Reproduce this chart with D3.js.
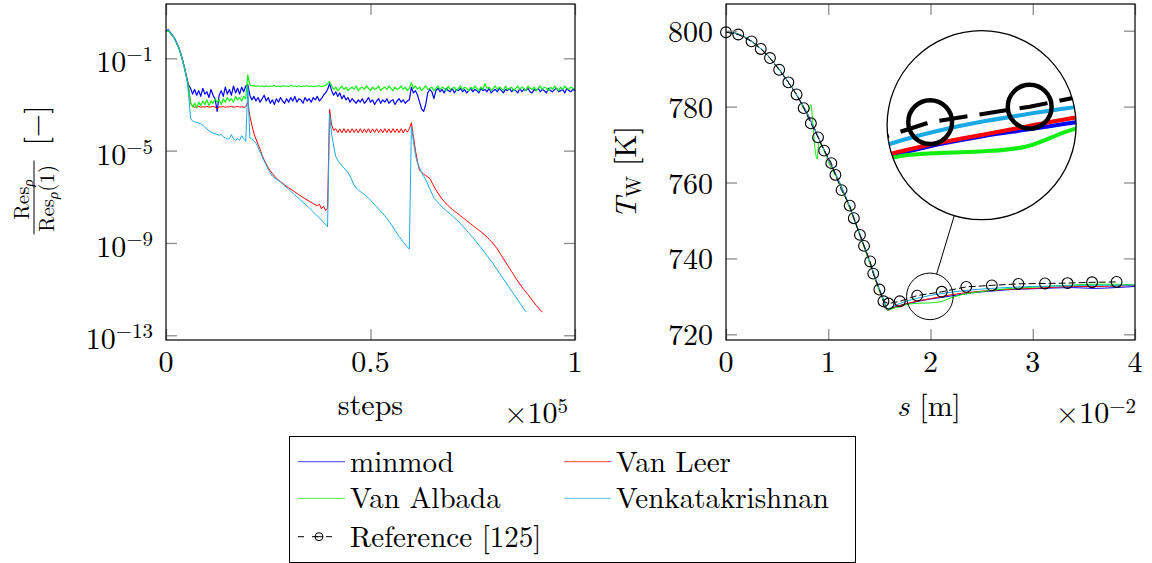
<!DOCTYPE html>
<html>
<head>
<meta charset="utf-8">
<script src="https://cdn.jsdelivr.net/npm/d3@7"></script>
<style>
body { margin: 0; background: #fff; }
svg text { font-family: "Latin Modern Roman", "CMU Serif", "Liberation Serif", "Times New Roman", serif; fill: #000; }
</style>
</head>
<body>
<svg id="chart" width="1152" height="563"></svg>
<script>
// residual history, log10(Res/Res(1)), sampled every 0.005 x 1e5 steps
var stepSpacing = 0.005;
var minmodRes = [0.15, 0.24, 0.12, 0.02, -0.1, -0.28, -0.48, -0.73, -1.03, -1.38, -1.78, -2.15,
    -2.3,
    -2.55, -2.35, -2.6, -2.4, -2.65, -2.3, -2.55, -2.45, -2.7, -2.35, -2.6, -2.75, -3.3, -2.6, -2.4, -2.65, -2.25, -2.55, -2.35, -2.6, -2.2, -2.5, -2.3, -2.55, -2.25, -2.45, -2.2,
    -2.15,
    -2.6, -2.8, -2.65, -2.85, -2.7, -2.9, -2.75, -2.6, -2.85, -2.7, -2.95, -2.8, -3.0, -2.75, -2.9, -2.7, -2.85, -2.95, -2.75, -2.9,
    -2.7, -2.85, -2.65, -2.9, -2.75, -2.8, -2.95, -2.7, -2.85, -2.75, -2.9, -2.7, -2.8, -2.65, -2.85, -2.75, -2.6, -2.5, -2.35,
    -2.1,
    -2.4, -2.6, -2.45, -2.65, -2.5, -2.75, -2.6, -2.8, -2.7, -2.9, -2.75, -2.85, -2.95, -2.8, -2.9, -2.75, -2.95, -2.85, -2.7, -2.9,
    -2.8, -3.0, -2.85, -2.75, -2.95, -2.8, -2.9, -2.75, -2.95, -2.85, -2.8, -3.0, -2.85, -2.75, -2.9, -2.8, -2.95, -2.85, -2.8,
    -2.25,
    -2.5, -2.4, -2.6, -2.9, -3.2, -3.3, -3.0, -2.5, -2.35, -2.45, -2.75, -2.4,
    -2.3, -2.45, -2.35, -2.5, -2.3, -2.4, -2.45, -2.3, -2.5, -2.35,
    -2.4, -2.3, -2.45, -2.35, -2.5, -2.4, -2.3, -2.45, -2.35, -2.4,
    -2.5, -2.3, -2.4, -2.35, -2.45, -2.3, -2.5, -2.4, -2.35, -2.45,
    -2.3, -2.4, -2.5, -2.35, -2.4, -2.3, -2.45, -2.35, -2.4, -2.5,
    -2.3, -2.45, -2.35, -2.4, -2.3, -2.45, -2.5, -2.35, -2.4, -2.3,
    -2.45, -2.35, -2.4, -2.5, -2.3, -2.4, -2.45, -2.35, -2.3, -2.45,
    -2.4, -2.35, -2.5, -2.3, -2.4, -2.45, -2.35, -2.4];

var vanLeerRes = [0.15, 0.21, 0.09, -0.01, -0.13, -0.31, -0.51, -0.76, -1.06, -1.41, -1.81, -2.2,
    -2.95,
    -3.08, -3.12, -3.1, -3.09, -3.12, -3.1, -3.11, -3.08, -3.12, -3.1, -3.09, -3.11, -3.2, -3.1, -3.11, -3.09, -3.12, -3.1, -3.11, -3.08,
    -3.12, -3.1, -3.09, -3.11, -3.1, -3.12, -3.1,
    -2.9,
    -3.5, -3.9, -4.25, -4.5, -4.72, -4.95, -5.2, -5.4, -5.58, -5.74,
    -5.88, -6.0, -6.1, -6.2, -6.28, -6.35, -6.41, -6.48, -6.55, -6.61,
    -6.67, -6.73, -6.79, -6.85, -6.91, -6.97, -7.03, -7.09, -7.14, -7.19,
    -7.24, -7.29, -7.34, -7.39, -7.32, -7.52, -7.4, -7.6, -7.48,
    -3.21,
    -3.9, -4.12,
    -4.05, -4.22, -4.06, -4.23, -4.05, -4.22, -4.07, -4.23, -4.05, -4.21,
    -4.06, -4.23, -4.05, -4.22, -4.06, -4.22, -4.05, -4.23, -4.06, -4.21,
    -4.05, -4.22, -4.07, -4.23, -4.05, -4.22, -4.06, -4.23, -4.05, -4.21,
    -4.06, -4.22, -4.05, -4.23, -4.06, -4.2, -4.05,
    -3.79,
    -4.4, -5.0, -5.5, -5.84, -5.93, -6.02, -6.08, -6.14, -6.2, -6.38,
    -6.55, -6.7, -6.84, -6.97, -7.09, -7.2, -7.3, -7.39, -7.47, -7.55,
    -7.62, -7.68, -7.75, -7.82, -7.89, -7.96, -8.03, -8.1, -8.17, -8.24,
    -8.31, -8.38, -8.45, -8.52, -8.59, -8.67, -8.75, -8.84, -8.93, -9.03,
    -9.14, -9.26, -9.4, -9.54, -9.68, -9.82, -9.96, -10.1, -10.24, -10.38,
    -10.52, -10.65, -10.78, -10.9, -11.02, -11.13, -11.24, -11.35, -11.47, -11.59,
    -11.7, -11.8, -11.9, -12.0];

var vanAlbadaRes = [0.15, 0.2, 0.1, 0.0, -0.12, -0.3, -0.5, -0.76, -1.06, -1.42, -1.82, -2.25,
    -2.9,
    -3.1, -2.95, -3.15, -2.9, -3.05, -2.85, -3.0, -2.8, -3.05, -2.85,
    -2.95, -2.75, -2.9, -2.8, -3.0, -2.75, -2.9, -2.7, -2.85, -2.75,
    -2.9, -2.65, -2.8, -2.7, -2.85, -2.65, -2.75,
    -1.72,
    -2.15, -2.2, -2.18, -2.22, -2.19, -2.21, -2.2, -2.23, -2.19, -2.22,
    -2.2, -2.21, -2.18, -2.22, -2.2, -2.23, -2.19, -2.21, -2.2, -2.22,
    -2.18, -2.21, -2.2, -2.23, -2.19, -2.22, -2.2, -2.21, -2.19, -2.22,
    -2.2, -2.23, -2.2, -2.21, -2.19, -2.22, -2.2, -2.18, -2.1,
    -2.0,
    -2.2, -2.35, -2.25, -2.4, -2.3, -2.2, -2.35, -2.25, -2.4, -2.3,
    -2.25, -2.35, -2.2, -2.4, -2.3, -2.25, -2.35, -2.2, -2.3, -2.4,
    -2.25, -2.35, -2.3, -2.2, -2.4, -2.3, -2.25, -2.35, -2.2, -2.3,
    -2.4, -2.25, -2.35, -2.3, -2.2, -2.35, -2.25, -2.4, -2.3, -2.05,
    -2.3, -2.2, -2.35, -2.25, -2.4, -2.3, -2.2, -2.35, -2.3, -2.25,
    -2.4, -2.3, -2.2, -2.35, -2.25, -2.3, -2.4, -2.2, -2.35, -2.3,
    -2.25, -2.4, -2.3, -2.2, -2.35, -2.25, -2.3, -2.4, -2.25, -2.35,
    -2.2, -2.3, -2.4, -2.25, -2.35, -2.1, -2.3, -2.25, -2.4, -2.3,
    -2.2, -2.35, -2.25, -2.3, -2.4, -2.2, -2.35, -2.3, -2.25, -2.4,
    -2.3, -2.2, -2.35, -2.25, -2.3, -2.4, -2.2, -2.3, -2.35, -2.25,
    -2.4, -2.3, -2.2, -2.35, -2.25, -2.3, -2.4, -2.25, -2.35, -2.2,
    -2.3, -2.4, -2.25, -2.35, -2.2, -2.3, -2.35, -2.25, -2.3, -2.35];

var venkatRes = [0.15, 0.23, 0.1, 0.0, -0.12, -0.3, -0.5, -0.75, -1.05, -1.4, -1.8,
    -2.5,
    -3.6, -3.72, -3.75, -3.78, -3.8, -3.84, -3.9, -3.98, -4.06, -4.14,
    -4.2, -4.24, -4.27, -4.3, -4.33, -4.3, -4.4, -4.45, -4.5, -4.48,
    -4.3, -4.5, -4.55, -4.48, -4.55, -4.35, -4.5, -4.6,
    -2.25,
    -4.45, -4.5, -4.58, -4.68, -4.85, -5.05, -5.25, -5.45, -5.62, -5.8,
    -5.96, -6.1, -6.18, -6.24, -6.3, -6.36, -6.44, -6.52, -6.6, -6.68,
    -6.76, -6.84, -6.92, -7.0, -7.08, -7.16, -7.24, -7.32, -7.4, -7.48,
    -7.57, -7.65, -7.74, -7.83, -7.92, -8.01, -8.1, -8.2, -8.3,
    -3.4,
    -4.3, -4.8, -5.25, -5.42, -5.55, -5.65, -5.75, -5.85, -5.96, -6.1,
    -6.3, -6.5, -6.62, -6.7, -6.77, -6.83, -6.9, -6.98, -7.06, -7.15,
    -7.24, -7.34, -7.43, -7.53, -7.63, -7.73, -7.83, -7.93, -8.05, -8.18,
    -8.31, -8.45, -8.59, -8.72, -8.84, -8.96, -9.07, -9.17, -9.27,
    -3.95,
    -4.6, -5.2, -5.55, -5.75, -5.95, -6.1, -6.27, -6.45, -6.65, -6.85,
    -7.05, -7.15, -7.25, -7.35, -7.45, -7.53, -7.6, -7.68, -7.75, -7.82,
    -7.9, -7.98, -8.07, -8.16, -8.26, -8.36, -8.46, -8.56, -8.66, -8.76,
    -8.87, -8.98, -9.09, -9.2, -9.31, -9.43, -9.55, -9.67, -9.79, -9.91,
    -10.04, -10.17, -10.3, -10.43, -10.56, -10.69, -10.82, -10.95, -11.08, -11.21,
    -11.34, -11.47, -11.6, -11.73, -11.86, -11.98];

// wall temperature along the wall, s in 1e-2 m
var wallS = [0, 0.1, 0.2, 0.3, 0.4, 0.5, 0.6, 0.7, 0.8, 0.83, 0.85, 0.87, 0.89, 0.91, 0.93, 0.96,
    1.0, 1.1, 1.2, 1.3, 1.4, 1.5, 1.55, 1.58, 1.62, 1.7, 1.8, 1.9, 2.0, 2.1, 2.2, 2.3, 2.4,
    2.6, 2.8, 3.0, 3.2, 3.4, 3.6, 3.8, 4.0];
var minmodT = [799.8, 799.3, 798.1, 796.2, 793.7, 790.5, 786.8, 782.7, 777.9, 776.2, 775.0, 773.9, 772.7, 771.5, 770.3, 768.6,
    766.2, 760.6, 754.2, 747.0, 739.5, 731.8, 728.4, 726.4, 726.9, 727.6, 728.2, 728.8, 729.3, 729.7, 730.1, 730.5, 730.9,
    731.4, 731.8, 732.0, 732.2, 732.3, 732.1, 732.3, 732.6];
var vanLeerT = [799.8, 799.3, 798.1, 796.2, 793.7, 790.5, 786.8, 782.7, 777.9, 776.2, 775.0, 773.9, 772.7, 771.5, 770.3, 768.6,
    766.1, 760.5, 754.0, 746.8, 739.3, 731.6, 728.2, 726.3, 726.8, 727.6, 728.3, 728.9, 729.4, 729.9, 730.4, 730.8, 731.1,
    731.6, 731.9, 732.1, 732.4, 732.6, 732.6, 732.7, 732.9];
var vanAlbadaT = [799.8, 799.3, 798.1, 796.2, 793.7, 790.5, 786.8, 782.7, 778.5, 780.5, 775.5, 769.0, 766.2, 770.8, 770.0, 768.3,
    765.5, 760.3, 754.0, 746.8, 739.3, 731.5, 728.1, 726.3, 726.7, 727.3, 728.0, 728.2, 728.3, 728.6, 729.6, 730.4, 730.9,
    731.6, 732.1, 732.4, 732.7, 733.0, 733.2, 733.2, 733.0];
var venkatT = [799.8, 799.3, 798.1, 796.2, 793.7, 790.5, 786.8, 782.7, 777.9, 776.2, 775.0, 773.9, 772.7, 771.5, 770.3, 768.6,
    766.3, 760.7, 754.3, 747.2, 739.7, 732.0, 728.6, 726.6, 727.2, 728.1, 729.0, 729.7, 730.25, 730.7, 731.1, 731.4, 731.7,
    732.1, 732.4, 732.6, 732.7, 732.8, 732.9, 732.9, 733.0];

var refS = [0.0, 0.12, 0.25, 0.34, 0.43, 0.52, 0.61, 0.69, 0.76, 0.83, 0.90, 0.96, 1.03, 1.07, 1.13, 1.21, 1.25,
    1.31, 1.35, 1.41, 1.44, 1.50, 1.54, 1.59, 1.70, 1.87, 2.11, 2.35, 2.60, 2.86, 3.12, 3.34, 3.58, 3.82];
var refT = [799.6, 799.0, 797.2, 795.2, 792.8, 789.7, 786.4, 783.2, 779.6, 775.6, 771.9, 768.4, 765.1, 762.0, 758.0, 753.9, 750.6,
    746.2, 743.3, 739.2, 736.0, 731.8, 728.7, 728.1, 728.7, 730.2, 731.2, 732.5, 732.9, 733.3, 733.4, 733.5, 733.7, 733.8];

var resTicks = [-1, -5, -9, -13];
var stepTicks = [0, 0.5, 1];
var tempTicks = [720, 740, 760, 780, 800];
var sTicks = [0, 1, 2, 3, 4];

var limiters = ['minmod', 'Van Leer', 'Van Albada', 'Venkatakrishnan'];
var colors = ['#0000ff', '#ff0000', '#11ee11', '#1ba9e6'];
var resSeries = [minmodRes, vanLeerRes, vanAlbadaRes, venkatRes];
var tempSeries = [minmodT, vanLeerT, vanAlbadaT, venkatT];

var svg = d3.select('#chart');
var plotTop = 4, plotBottom = 340;

var xL = d3.scaleLinear().domain([0, 1]).range([166, 575]);
var yL = d3.scaleLog().domain([Math.pow(10, -13.205), Math.pow(10, 1.353)]).range([plotBottom, plotTop]);
var xR = d3.scaleLinear().domain([0, 4]).range([726, 1135]);
var yR = d3.scaleLinear().domain([718.5, 807.04]).range([plotBottom, plotTop]);

function ticksInside(x, y, xt, ytv) {
    var g = svg.append('g');
    var x0 = x.range()[0], x1 = x.range()[1];
    g.append('g').attr('transform', 'translate(0,' + plotBottom + ')')
        .call(d3.axisBottom(x).tickValues(xt).tickSize(-11).tickFormat(''));
    g.append('g').attr('transform', 'translate(0,' + plotTop + ')')
        .call(d3.axisTop(x).tickValues(xt).tickSize(-11).tickFormat(''));
    g.append('g').attr('transform', 'translate(' + x0 + ',0)')
        .call(d3.axisLeft(y).tickValues(ytv).tickSize(-11).tickFormat(''));
    g.append('g').attr('transform', 'translate(' + x1 + ',0)')
        .call(d3.axisRight(y).tickValues(ytv).tickSize(-11).tickFormat(''));
    g.selectAll('.domain').remove();
    g.selectAll('.tick line').attr('stroke', '#8c8c8c').attr('stroke-width', 1.3);
    svg.append('rect').attr('x', x0).attr('y', plotTop).attr('width', x1 - x0).attr('height', plotBottom - plotTop)
        .attr('fill', 'none').attr('stroke', '#000').attr('stroke-width', 1.2);
}

// ---------- left: residuals ----------
var resLine = d3.line()
    .x(function(d, i) { return xL(i * stepSpacing); })
    .y(function(d) { return yL(Math.pow(10, d)); });

var left = svg.append('g');
resSeries.forEach(function(s, k) {
    left.append('path').datum(s).attr('d', resLine)
        .attr('fill', 'none').attr('stroke', colors[k]).attr('stroke-width', k == 0 || k == 2 ? 1.2 : 1)
        .attr('stroke-linejoin', 'round');
});
ticksInside(xL, yL, stepTicks, resTicks.map(function(v) { return Math.pow(10, v); }));

resTicks.forEach(function(v) {
    var t = svg.append('text').attr('x', 153).attr('y', yL(Math.pow(10, v)) + 14)
        .attr('text-anchor', 'end').style('font-size', '30px').text('10');
    t.append('tspan').attr('dy', -11).style('font-size', '21px').text('\u2212' + Math.abs(v));
});
stepTicks.forEach(function(v) {
    svg.append('text').attr('x', xL(v)).attr('y', 372).attr('text-anchor', 'middle')
        .style('font-size', '30px').text(v);
});
svg.append('text').attr('x', xL(0.5)).attr('y', 415).attr('text-anchor', 'middle')
    .style('font-size', '30px').text('steps');
var m5 = svg.append('text').attr('x', 568).attr('y', 423).attr('text-anchor', 'end')
    .style('font-size', '30px').text('\u00d710');
m5.append('tspan').attr('dy', -10).style('font-size', '21px').text('5');

// y label: Res_rho / Res_rho(1) [-]
var yl = svg.append('g').attr('transform', 'translate(34,172.5) rotate(-90)');
yl.append('line').attr('x1', -62).attr('x2', 12).attr('y1', 0).attr('y2', 0)
    .attr('stroke', '#000').attr('stroke-width', 1);
var num = yl.append('text').attr('x', -27).attr('y', -5).attr('text-anchor', 'middle').style('font-size', '21px').text('Res');
num.append('tspan').attr('dy', 4).style('font-size', '15px').style('font-style', 'italic').text('\u03c1');
var den = yl.append('text').attr('x', -26).attr('y', 20).attr('text-anchor', 'middle').style('font-size', '21px').text('Res');
den.append('tspan').attr('dy', 4).style('font-size', '15px').style('font-style', 'italic').text('\u03c1');
den.append('tspan').attr('dy', -4).text('(1)');
yl.append('text').attr('x', 47).attr('y', 12).attr('text-anchor', 'middle').style('font-size', '30px').text('[\u2212]');

// ---------- right: wall temperature ----------
function drawWall(g) {
    tempSeries.forEach(function(s, k) {
        var line = d3.line().curve(d3.curveMonotoneX)
            .x(function(d, i) { return xR(wallS[i]); }).y(function(d) { return yR(d); });
        g.append('path').datum(s).attr('d', line)
            .attr('fill', 'none').attr('stroke', colors[k]).attr('stroke-width', 1)
            .attr('stroke-linejoin', 'round');
    });
    var refLine = d3.line().x(function(d, i) { return xR(refS[i]); }).y(function(d) { return yR(d); });
    g.append('path').datum(refT).attr('d', refLine).attr('fill', 'none')
        .attr('stroke', '#000').attr('stroke-width', 1).attr('stroke-dasharray', '7,3');
    g.selectAll('circle.ref').data(refT).enter().append('circle').attr('class', 'ref')
        .attr('cx', function(d, i) { return xR(refS[i]); })
        .attr('cy', function(d) { return yR(d); })
        .attr('r', 5.4).attr('fill', 'none').attr('stroke', '#000').attr('stroke-width', 1.1);
}

var right = svg.append('g');
drawWall(right);
ticksInside(xR, yR, sTicks, tempTicks);

tempTicks.forEach(function(v) {
    svg.append('text').attr('x', 713).attr('y', yR(v) + 11).attr('text-anchor', 'end')
        .style('font-size', '30px').text(v);
});
sTicks.forEach(function(v) {
    svg.append('text').attr('x', xR(v)).attr('y', 372).attr('text-anchor', 'middle')
        .style('font-size', '30px').text(v);
});
var sl = svg.append('text').attr('x', 929).attr('y', 416).attr('text-anchor', 'middle').style('font-size', '30px');
sl.append('tspan').style('font-style', 'italic').text('s');
sl.append('tspan').text(' [m]');
var m2 = svg.append('text').attr('x', 1136).attr('y', 423).attr('text-anchor', 'end')
    .style('font-size', '30px').text('\u00d710');
m2.append('tspan').attr('dy', -10).style('font-size', '21px').text('\u22122');

var tl = svg.append('text').attr('transform', 'translate(636,172.5) rotate(-90)')
    .attr('text-anchor', 'middle').style('font-size', '30px');
tl.append('tspan').style('font-style', 'italic').text('T');
tl.append('tspan').attr('dy', 5).style('font-size', '21px').text('W');
tl.append('tspan').attr('dy', -5).text(' [K]');

// magnifier
var spyS = 1.994, spyT = 730.0;
var spyX = xR(spyS), spyY = yR(spyT);
var rSmall = 23.3, rBig = 94.5, lensX = spyX + 51.7, lensY = spyY - 171.2;
var k = rBig / rSmall;
var dx = lensX - spyX, dy = lensY - spyY, dl = Math.sqrt(dx * dx + dy * dy);
svg.append('line')
    .attr('x1', spyX + dx / dl * rSmall).attr('y1', spyY + dy / dl * rSmall)
    .attr('x2', lensX - dx / dl * rBig).attr('y2', lensY - dy / dl * rBig)
    .attr('stroke', '#000').attr('stroke-width', 1);
svg.append('circle').attr('cx', spyX).attr('cy', spyY).attr('r', rSmall)
    .attr('fill', 'none').attr('stroke', '#000').attr('stroke-width', 1);
svg.append('clipPath').attr('id', 'lensClip').append('circle')
    .attr('cx', lensX).attr('cy', lensY).attr('r', rBig);
svg.append('circle').attr('cx', lensX).attr('cy', lensY).attr('r', rBig).attr('fill', '#fff');
var lens = svg.append('g').attr('clip-path', 'url(#lensClip)')
    .append('g').attr('transform', 'translate(' + lensX + ',' + lensY + ') scale(' + k + ') translate(' + (-spyX) + ',' + (-spyY) + ')');
drawWall(lens);
svg.append('circle').attr('cx', lensX).attr('cy', lensY).attr('r', rBig)
    .attr('fill', 'none').attr('stroke', '#000').attr('stroke-width', 1.3);

// ---------- legend ----------
var lg = svg.append('g');
lg.append('rect').attr('x', 289.5).attr('y', 436.5).attr('width', 566).attr('height', 126)
    .attr('fill', '#fff').attr('stroke', '#000').attr('stroke-width', 1);
var rowY = [461.7, 498.3, 536.7];
var colX = [298, 564];
limiters.forEach(function(name, i) {
    var cx = colX[i % 2], cy = rowY[Math.floor(i / 2)];
    lg.append('line').attr('x1', cx).attr('x2', cx + 47).attr('y1', cy).attr('y2', cy)
        .attr('stroke', colors[i]).attr('stroke-width', 1.2).attr('stroke-opacity', 0.6);
    lg.append('text').attr('x', cx + 52).attr('y', cy + 10).style('font-size', '29px').text(name);
});
lg.append('line').attr('x1', 298).attr('x2', 338).attr('y1', rowY[2]).attr('y2', rowY[2])
    .attr('stroke', '#000').attr('stroke-width', 1).attr('stroke-dasharray', '6,8');
lg.append('circle').attr('cx', 319).attr('cy', rowY[2]).attr('r', 4)
    .attr('fill', 'none').attr('stroke', '#000').attr('stroke-width', 1);
lg.append('line').attr('x1', 315).attr('x2', 323).attr('y1', rowY[2]).attr('y2', rowY[2])
    .attr('stroke', '#000').attr('stroke-width', 1);
lg.append('text').attr('x', 350).attr('y', rowY[2] + 10).style('font-size', '29px').text('Reference [125]');
</script>
</body>
</html>
